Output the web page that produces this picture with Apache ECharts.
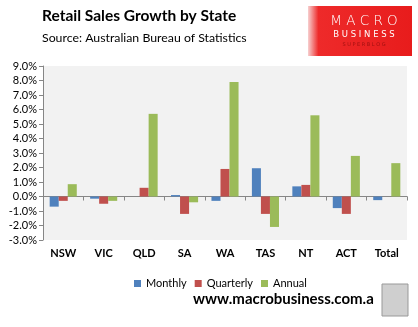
<!DOCTYPE html>
<html><head><meta charset="utf-8">
<script src="https://cdn.jsdelivr.net/npm/echarts@6/dist/echarts.min.js"></script>
<style>html,body{margin:0;padding:0;background:#fff}#c{width:418px;height:327px}</style>
</head><body><div id="c"></div>
<script>
const categories = ['NSW','VIC','QLD','SA','WA','TAS','NT','ACT','Total'];
const monthly   = [-0.7, -0.15, 0.0, 0.1, -0.3, 1.95, 0.7, -0.8, -0.25];
const quarterly = [-0.3, -0.5, 0.6, -1.2, 1.9, -1.2, 0.8, -1.2, 0.0];
const annual    = [0.85, -0.3, 5.7, -0.4, 7.9, -2.1, 5.6, 2.8, 2.3];
const seriesNames = ['Monthly','Quarterly','Annual'];
const colors = ['#4f81bd','#c0504d','#9bbb59'];
const FONT = 'Lato, "Open Sans", sans-serif';

const chart = echarts.init(document.getElementById('c'), null, {renderer:'canvas'});
chart.setOption({
  animation:false,
  textStyle:{fontFamily:FONT},
  grid:{left:43,right:11,top:66,bottom:87,show:true,backgroundColor:'#f2f2f2',borderWidth:0},
  legend:{
    data:seriesNames, left:129, top:273, itemWidth:7, itemHeight:7, itemGap:8,
    icon:'rect', textStyle:{fontFamily:FONT,fontSize:11,color:'#000'}
  },
  xAxis:{
    type:'category', data:categories,
    axisLine:{onZero:true,lineStyle:{color:'#868686',width:1}},
    axisTick:{show:true,length:4,lineStyle:{color:'#868686'}},
    axisLabel:{margin:8,fontFamily:FONT,fontSize:11,fontWeight:'bold',color:'#000'},
    splitLine:{show:false}
  },
  yAxis:{
    type:'value', min:-3, max:9, interval:1,
    axisLine:{show:true,lineStyle:{color:'#868686'}},
    axisTick:{show:true,length:4,lineStyle:{color:'#868686'}},
    splitLine:{show:false},
    axisLabel:{margin:6,fontFamily:FONT,fontSize:11,color:'#000',formatter:v=>v.toFixed(1)+'%'}
  },
  series:[
    {name:seriesNames[0],type:'bar',data:monthly,itemStyle:{color:colors[0]},barGap:'0%',barCategoryGap:'33%'},
    {name:seriesNames[1],type:'bar',data:quarterly,itemStyle:{color:colors[1]},barGap:'0%',barCategoryGap:'33%'},
    {name:seriesNames[2],type:'bar',data:annual,itemStyle:{color:colors[2]},barGap:'0%',barCategoryGap:'33%'}
  ],
  graphic:[
    {type:'text',left:42,top:8,style:{text:'Retail Sales Growth by State',font:'bold 15.5px '+FONT,fill:'#000'}},
    {type:'text',left:42,top:32,style:{text:'Source: Australian Bureau of Statistics',font:'12.3px '+FONT,fill:'#000'}},
    {type:'rect',shape:{x:308,y:6,width:104,height:50},style:{fill:new echarts.graphic.LinearGradient(0,0,1,0,[{offset:0,color:'#f7d0d0'},{offset:0.1,color:'#ee2a2a'},{offset:1,color:'#e81c1c'}])}},
    {type:'text',x:364,y:21,style:{text:'M A C R O',font:'300 13.5px "DejaVu Sans", sans-serif',fill:'#fff',align:'center',verticalAlign:'middle'}},
    {type:'text',x:364,y:35,style:{text:'B U S I N E S S',font:'8.5px "DejaVu Sans", sans-serif',fill:'#fff',align:'center',verticalAlign:'middle'}},
    {type:'text',x:364,y:45,style:{text:'S U P E R B L O G',font:'5px "DejaVu Sans", sans-serif',fill:'#a01010',align:'center',verticalAlign:'middle'}},
    {type:'text',left:193,top:292,style:{text:'www.macrobusiness.com.a',font:'bold 15px '+FONT,fill:'#000'}},
    {type:'rect',shape:{x:382,y:284,width:26,height:32},style:{fill:'#cfcfcf',stroke:'#999',lineWidth:1}}
  ]
});
</script></body></html>
